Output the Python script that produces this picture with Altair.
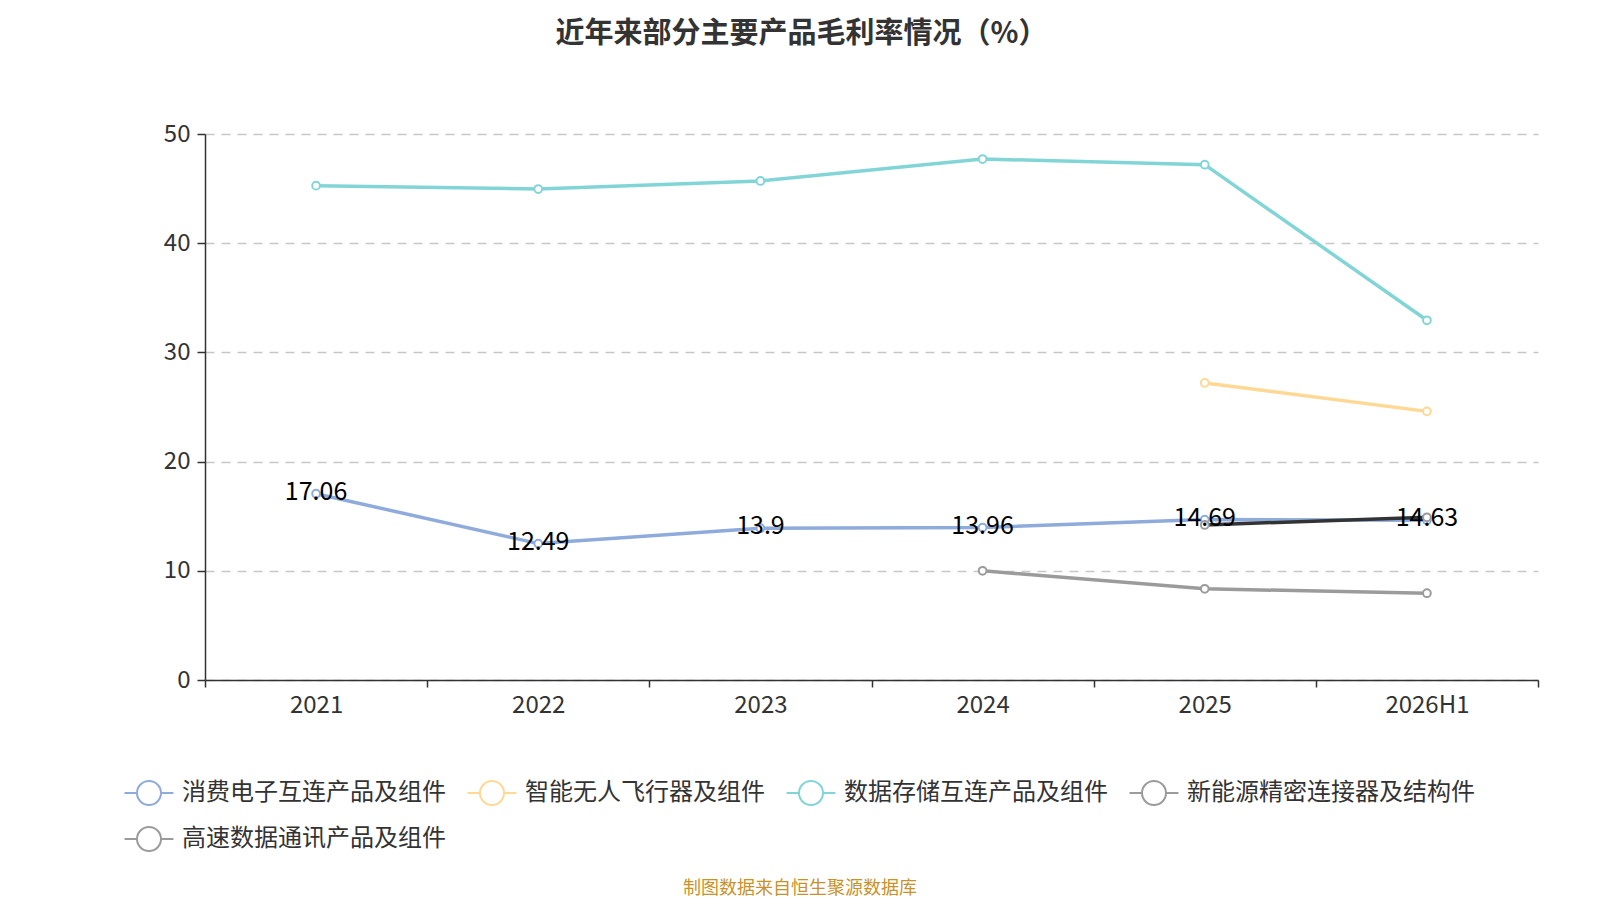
import altair as alt
import pandas as pd

periods = ["2021", "2022", "2023", "2024", "2025", "2026H1"]
series_names = ["消费电子互连产品及组件", "智能无人飞行器及组件", "数据存储互连产品及组件",
                "新能源精密连接器及结构件", "高速数据通讯产品及组件"]
consumer = [17.06, 12.49, 13.9, 13.96, 14.69, 14.63]
drone = [None, None, None, None, 27.2, 24.6]
storage = [45.27, 44.96, 45.70, 47.71, 47.19, 32.94]
newenergy = [None, None, None, 10.0, 8.35, 7.95]
highspeed = [None, None, None, None, 14.2, 14.9]

line_colors = ["#8EABDC", "#FFD894", "#82D5D7", "#9B9B9B", "#333333"]
point_colors = ["#8EABDC", "#FFD894", "#82D5D7", "#9B9B9B", "#9B9B9B"]

rows = []
for name, vals in zip(series_names, [consumer, drone, storage, newenergy, highspeed]):
    for p, v in zip(periods, vals):
        if v is not None:
            rows.append({"series": name, "period": p, "value": v})
df = pd.DataFrame(rows)

FONT = "Noto Sans CJK SC"

x_enc = alt.X("period:N", sort=periods,
              scale=alt.Scale(domain=periods, paddingInner=0, paddingOuter=0),
              axis=alt.Axis(title=None, labelAngle=0, tickBand="extent", tickSize=7,
                            labelFontSize=24, labelColor="#333333", labelPadding=6,
                            domainColor="#333333", tickColor="#333333",
                            domainWidth=1.5, tickWidth=1.5, grid=False))
y_enc = alt.Y("value:Q",
              scale=alt.Scale(domain=[0, 50], nice=False),
              axis=alt.Axis(title=None, values=[0, 10, 20, 30, 40, 50], tickSize=8,
                            labelFontSize=24, labelColor="#333333", labelPadding=7,
                            domainColor="#333333", tickColor="#333333",
                            domainWidth=1.5, tickWidth=1.5,
                            grid=True, gridColor="#C8C8C8", gridDash=[9, 7], gridWidth=1.5))

base = alt.Chart(df)

lines = base.mark_line(strokeWidth=3.5).encode(
    x=x_enc, y=y_enc,
    color=alt.Color("series:N", sort=series_names,
                    scale=alt.Scale(domain=series_names, range=line_colors), legend=None),
    order=alt.Order("period:N"),
    detail="series:N",
)

legend_path = ("M-1.63,0L-0.8,0M0.8,0L1.63,0"
               "M0.8,0A0.8,0.8,0,1,1,-0.8,0A0.8,0.8,0,1,1,0.8,0")

points = base.mark_point(shape="circle", size=60, filled=True, fill="white",
                         strokeWidth=2, opacity=1).encode(
    x=x_enc, y=y_enc,
    stroke=alt.Stroke("series:N", sort=series_names,
                      scale=alt.Scale(domain=series_names, range=point_colors),
                      legend=alt.Legend(title=None, orient="none", direction="horizontal",
                                        columns=4, legendX=-72, legendY=643,
                                        symbolType=legend_path, symbolSize=900,
                                        symbolStrokeWidth=2, symbolFillColor="white",
                                        labelFontSize=24, labelColor="#333333",
                                        labelFont=FONT, labelOffset=17,
                                        columnPadding=17, rowPadding=14, padding=0,
                                        labelLimit=400)),
)

labels = base.transform_filter(alt.datum.series == series_names[0]).mark_text(
    fontSize=25, color="#000000", baseline="middle", align="center", dy=-2, font=FONT
).encode(x=x_enc, y=y_enc, text=alt.Text("value:Q"))

foot_df = pd.DataFrame({"t": ["制图数据来自恒生聚源数据库"]})
footer = alt.Chart(foot_df).mark_text(fontSize=18, color="#C8922A", font=FONT,
                                      baseline="middle", align="center").encode(
    text="t:N", x=alt.value(595), y=alt.value(755))

chart = alt.layer(lines, points, labels, footer).resolve_scale(
    color="independent", stroke="independent"
).properties(
    width=1333, height=546,
    title=alt.TitleParams("近年来部分主要产品毛利率情况（%）", fontSize=29, fontWeight="bold",
                          color="#333333", font=FONT, anchor="middle", frame="group",
                          baseline="middle", dx=-70, offset=59),
    autosize=alt.AutoSizeParams(type="none"),
    padding={"left": 197, "top": 126, "right": 54, "bottom": 230},
    view=alt.ViewBackground(strokeWidth=0, stroke="transparent"),
).configure_view(strokeWidth=0, stroke="transparent").configure(font=FONT)

chart.save("out.html", embed_options={"renderer": "svg", "actions": False})
